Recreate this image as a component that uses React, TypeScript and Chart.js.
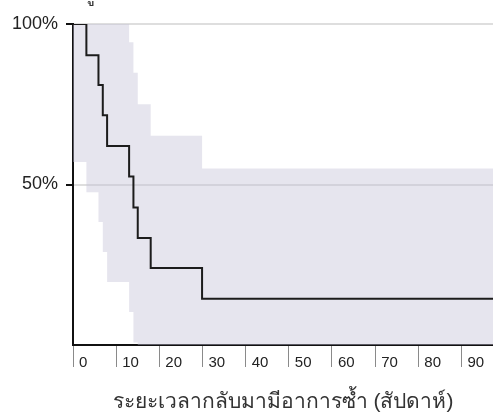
import React, { useEffect, useRef } from "react";
import { Chart, registerables } from "chart.js";

Chart.register(...registerables);

// Kaplan-Meier estimate (step times in weeks)
const times = [0, 3.1, 5.9, 6.9, 7.9, 13.0, 14.0, 15.0, 18.0, 29.9, 98];
const survival = [100, 90.3, 81.0, 71.6, 62.0, 52.5, 42.8, 33.3, 24.0, 14.4, 14.4];
const lowerCI = [57.0, 47.6, 38.3, 29.0, 19.6, 10.3, 0.8, 0, 0, 0, 0];
const upperCI = [100, 100, 100, 100, 100, 94.3, 84.8, 75.0, 65.2, 55.0, 55.0];

const xTickValues = [0, 10, 20, 30, 40, 50, 60, 70, 80, 90];
const yTickValues = [50, 100];

const xTitle = "ระยะเวลากลับมามีอาการซ้ำ (สัปดาห์)";
const topLabel = "ผู้ป่วย";

const FONT = "'Liberation Sans', Arial, Helvetica, sans-serif";

const toPoints = (ys: number[]) => times.map((t, i) => ({ x: t, y: ys[i] }));

const topTextPlugin = {
  id: "topText",
  afterDraw(chart: any) {
    const ctx = chart.ctx;
    ctx.save();
    ctx.font = `20px ${FONT}`;
    ctx.fillStyle = "#333";
    ctx.textAlign = "left";
    ctx.textBaseline = "alphabetic";
    ctx.fillText(topLabel, 83, 0);
    ctx.restore();
  },
};

export default function App() {
  const ref = useRef<HTMLCanvasElement | null>(null);

  useEffect(() => {
    document.body.style.margin = "0";
    document.body.style.overflow = "hidden";
    if (!ref.current) return;
    const chart = new Chart(ref.current, {
      type: "line",
      data: {
        datasets: [
          {
            label: "KM",
            data: toPoints(survival),
            stepped: "before",
            borderColor: "#1c1c1c",
            borderWidth: 2,
            pointRadius: 0,
            fill: false,
          },
          {
            label: "upper",
            data: toPoints(upperCI),
            stepped: "before",
            borderWidth: 0,
            borderColor: "rgba(0,0,0,0)",
            backgroundColor: "rgba(195,192,215,0.42)",
            pointRadius: 0,
            fill: "+1",
          },
          {
            label: "lower",
            data: toPoints(lowerCI),
            stepped: "before",
            borderWidth: 0,
            borderColor: "rgba(0,0,0,0)",
            pointRadius: 0,
            fill: false,
          },
        ],
      },
      options: {
        animation: false,
        responsive: true,
        maintainAspectRatio: false,
        layout: { padding: { top: 24, right: 0, bottom: 0, left: 0 } },
        plugins: {
          legend: { display: false },
          tooltip: { enabled: false },
        },
        scales: {
          x: {
            type: "linear",
            min: 0,
            max: 97.3,
            afterBuildTicks: (s: any) => {
              s.ticks = xTickValues.map((v) => ({ value: v }));
            },
            afterFit: (s: any) => {
              s.height = 68;
            },
            grid: {
              drawOnChartArea: false,
              drawTicks: true,
              tickLength: 22,
              tickColor: "#8a8a8a",
              tickWidth: 1,
            },
            border: { display: true, color: "#111", width: 2 },
            ticks: {
              align: "start",
              labelOffset: 6,
              padding: -13,
              maxRotation: 0,
              autoSkip: false,
              color: "#222",
              font: { family: FONT, size: 15 },
              callback: (v: any) => String(v),
            },
            title: {
              display: true,
              text: xTitle,
              color: "#333",
              font: { family: FONT, size: 21, lineHeight: 1 },
              padding: { top: 0, bottom: 0 },
            },
          },
          y: {
            min: 0,
            max: 100,
            afterBuildTicks: (s: any) => {
              s.ticks = yTickValues.map((v) => ({ value: v }));
            },
            afterFit: (s: any) => {
              s.width = 73;
            },
            grid: {
              color: "#dedede",
              lineWidth: 2,
              tickLength: 7,
              tickColor: "#111",
              tickWidth: 2,
            },
            border: { display: true, color: "#111", width: 2 },
            ticks: {
              padding: 8,
              color: "#222",
              font: { family: FONT, size: 18 },
              callback: (v: any) => `${v}%`,
            },
          },
        },
      },
      plugins: [topTextPlugin],
    } as any);
    return () => chart.destroy();
  }, []);

  return (
    <div style={{ position: "relative", width: 493, height: 413 }}>
      <canvas ref={ref} />
    </div>
  );
}
